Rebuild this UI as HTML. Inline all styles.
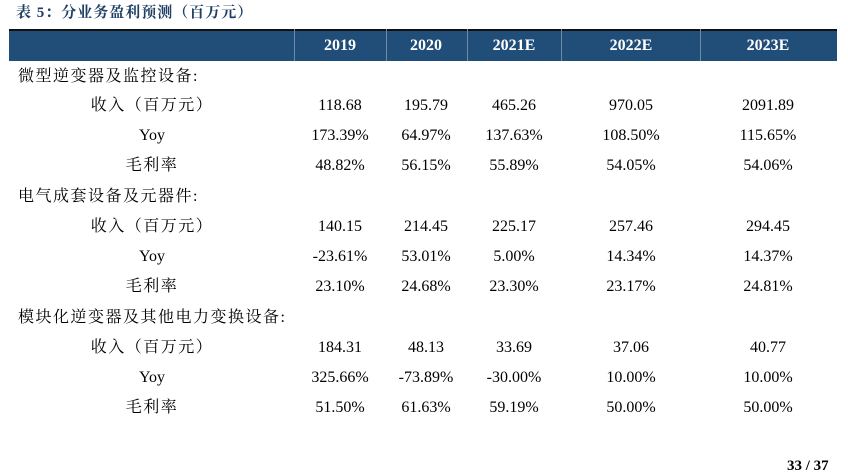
<!DOCTYPE html>
<html><head><meta charset="utf-8"><style>
body{margin:0;width:848px;height:474px;background:#fff;position:relative;overflow:hidden;font-family:"Liberation Serif","Noto Serif CJK SC",serif;color:#000}
.t{position:absolute;font-size:16px;line-height:20px;white-space:nowrap}
.c{transform:translateX(-50%)}
.h{color:#fff;font-weight:bold;font-size:16px}
#hdr{position:absolute;left:9px;top:29px;width:828px;height:32px;background:#214e79;border-top:2px solid #111;box-sizing:border-box}
.d{position:absolute;top:29px;height:32px;width:1px;background:#6d8aa8}
.cj{font-family:"Liberation Serif","Noto Serif CJK SC",serif;letter-spacing:1.5px}
</style></head><body>
<div class="t cj" style="left:16px;top:3px;color:#1f3f66;font-weight:bold;font-size:15px;letter-spacing:1px">表 5：分业务盈利预测（百万元）</div>
<div id="hdr"></div>
<div class="d" style="left:294px"></div><div class="d" style="left:386px"></div><div class="d" style="left:467px"></div><div class="d" style="left:561px"></div><div class="d" style="left:700px"></div>
<div class="t c h" style="left:340px;top:36px">2019</div>
<div class="t c h" style="left:426px;top:36px">2020</div>
<div class="t c h" style="left:514px;top:36px">2021E</div>
<div class="t c h" style="left:631px;top:36px">2022E</div>
<div class="t c h" style="left:768px;top:36px">2023E</div>

<div class="t cj" style="left:18px;top:67px">微型逆变器及监控设备:</div>
<div class="t cj c" style="left:152px;top:96px">收入（百万元）</div>
<div class="t c" style="left:152px;top:126px">Yoy</div>
<div class="t cj c" style="left:152px;top:156px">毛利率</div>
<div class="t c" style="left:340px;top:96px">118.68</div><div class="t c" style="left:426px;top:96px">195.79</div><div class="t c" style="left:514px;top:96px">465.26</div><div class="t c" style="left:631px;top:96px">970.05</div><div class="t c" style="left:768px;top:96px">2091.89</div>
<div class="t c" style="left:340px;top:126px">173.39%</div><div class="t c" style="left:426px;top:126px">64.97%</div><div class="t c" style="left:514px;top:126px">137.63%</div><div class="t c" style="left:631px;top:126px">108.50%</div><div class="t c" style="left:768px;top:126px">115.65%</div>
<div class="t c" style="left:340px;top:156px">48.82%</div><div class="t c" style="left:426px;top:156px">56.15%</div><div class="t c" style="left:514px;top:156px">55.89%</div><div class="t c" style="left:631px;top:156px">54.05%</div><div class="t c" style="left:768px;top:156px">54.06%</div>

<div class="t cj" style="left:18px;top:187px">电气成套设备及元器件:</div>
<div class="t cj c" style="left:152px;top:217px">收入（百万元）</div>
<div class="t c" style="left:152px;top:247px">Yoy</div>
<div class="t cj c" style="left:152px;top:277px">毛利率</div>
<div class="t c" style="left:340px;top:217px">140.15</div><div class="t c" style="left:426px;top:217px">214.45</div><div class="t c" style="left:514px;top:217px">225.17</div><div class="t c" style="left:631px;top:217px">257.46</div><div class="t c" style="left:768px;top:217px">294.45</div>
<div class="t c" style="left:340px;top:247px">-23.61%</div><div class="t c" style="left:426px;top:247px">53.01%</div><div class="t c" style="left:514px;top:247px">5.00%</div><div class="t c" style="left:631px;top:247px">14.34%</div><div class="t c" style="left:768px;top:247px">14.37%</div>
<div class="t c" style="left:340px;top:277px">23.10%</div><div class="t c" style="left:426px;top:277px">24.68%</div><div class="t c" style="left:514px;top:277px">23.30%</div><div class="t c" style="left:631px;top:277px">23.17%</div><div class="t c" style="left:768px;top:277px">24.81%</div>

<div class="t cj" style="left:18px;top:308px">模块化逆变器及其他电力变换设备:</div>
<div class="t cj c" style="left:152px;top:338px">收入（百万元）</div>
<div class="t c" style="left:152px;top:368px">Yoy</div>
<div class="t cj c" style="left:152px;top:398px">毛利率</div>
<div class="t c" style="left:340px;top:338px">184.31</div><div class="t c" style="left:426px;top:338px">48.13</div><div class="t c" style="left:514px;top:338px">33.69</div><div class="t c" style="left:631px;top:338px">37.06</div><div class="t c" style="left:768px;top:338px">40.77</div>
<div class="t c" style="left:340px;top:368px">325.66%</div><div class="t c" style="left:426px;top:368px">-73.89%</div><div class="t c" style="left:514px;top:368px">-30.00%</div><div class="t c" style="left:631px;top:368px">10.00%</div><div class="t c" style="left:768px;top:368px">10.00%</div>
<div class="t c" style="left:340px;top:398px">51.50%</div><div class="t c" style="left:426px;top:398px">61.63%</div><div class="t c" style="left:514px;top:398px">59.19%</div><div class="t c" style="left:631px;top:398px">50.00%</div><div class="t c" style="left:768px;top:398px">50.00%</div>

<div class="t" style="left:787px;top:456px;font-weight:bold;font-size:15px">33 / 37</div>
</body></html>
